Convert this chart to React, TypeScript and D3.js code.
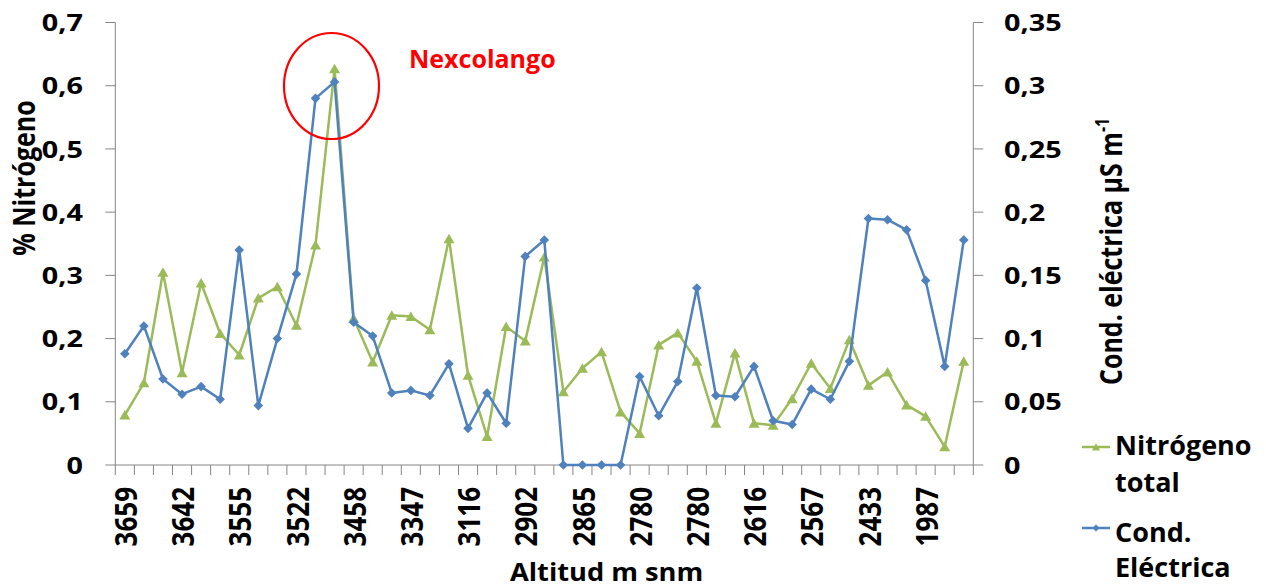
import * as d3 from 'd3'

// altitud labels that Excel actually shows (every 3rd category)
const altitudLabels = ['3659', '3642', '3555', '3522', '3458', '3347', '3116', '2902', '2865', '2780', '2780', '2616', '2567', '2433', '1987']
const labelEvery = 3

// % nitrógeno total (left axis)
const nitrogeno = [
  0.079, 0.13, 0.305, 0.146, 0.288, 0.208, 0.174, 0.264, 0.282, 0.221,
  0.348, 0.627, 0.232, 0.163, 0.237, 0.235, 0.214, 0.358, 0.142, 0.045,
  0.219, 0.196, 0.329, 0.116, 0.153, 0.179, 0.084, 0.05, 0.19, 0.209,
  0.164, 0.066, 0.177, 0.066, 0.063, 0.105, 0.161, 0.121, 0.198, 0.126,
  0.147, 0.095, 0.077, 0.029, 0.164,
]

// conductividad eléctrica µS m-1 (right axis)
const conductividad = [
  0.088, 0.11, 0.068, 0.056, 0.062, 0.052, 0.17, 0.047, 0.1, 0.151,
  0.29, 0.303, 0.113, 0.102, 0.057, 0.059, 0.055, 0.08, 0.029, 0.057,
  0.033, 0.165, 0.178, 0, 0, 0, 0, 0.07, 0.039, 0.066,
  0.14, 0.055, 0.054, 0.078, 0.035, 0.032, 0.06, 0.052, 0.082, 0.195,
  0.194, 0.186, 0.146, 0.078, 0.178,
]

const leftTicks = [0, 0.1, 0.2, 0.3, 0.4, 0.5, 0.6, 0.7]
const rightTicks = [0, 0.05, 0.1, 0.15, 0.2, 0.25, 0.3, 0.35]

const GREEN = '#9BBB59'
const BLUE = '#4F81BD'
const AXIS = '#868686'
const FONT = '"Open Sans", Calibri, sans-serif'

const comma = d3.formatLocale({ decimal: ',', thousands: '.', grouping: [3], currency: ['', ''] }).format('~g')

const W = 1266
const H = 588
const left = 115.3
const right = 973.3
const top = 22.5
const bottom = 465

const triPath = 'M0,-5L5.5,4.5L-5.5,4.5Z'
const diaPath = 'M0,-4.8L4.8,0L0,4.8L-4.8,0Z'

export default function App() {
  const idx = d3.range(nitrogeno.length)
  const x = d3.scaleBand<number>().domain(idx).range([left, right]).padding(0)
  const cx = (i: number) => (x(i) ?? 0) + x.bandwidth() / 2
  const yL = d3.scaleLinear().domain([0, 0.7]).range([bottom, top])
  const yR = d3.scaleLinear().domain([0, 0.35]).range([bottom, top])

  const lineN = d3.line<number>().x((_, i) => cx(i)).y((d) => yL(d))
  const lineC = d3.line<number>().x((_, i) => cx(i)).y((d) => yR(d))

  const boundaries = d3.range(idx.length + 1).map((i) => left + i * x.bandwidth())

  return (
    <svg width={W} height={H} style={{ position: 'absolute', left: 0, top: 0, background: '#fff' }} fontFamily={FONT}>
      {/* axes */}
      <line x1={left} x2={left} y1={top} y2={bottom} stroke={AXIS} />
      <line x1={right} x2={right} y1={top} y2={bottom} stroke={AXIS} />
      <line x1={left} x2={right} y1={bottom} y2={bottom} stroke={AXIS} />
      {leftTicks.map((t) => (
        <g key={'l' + t}>
          <line x1={left - 10} x2={left} y1={yL(t)} y2={yL(t)} stroke={AXIS} />
          <text transform={`translate(83,${yL(t)}) scale(1.2,1)`} textAnchor="end" dy="0.36em" fontSize={24} fontWeight="bold">
            {comma(t)}
          </text>
        </g>
      ))}
      {rightTicks.map((t) => (
        <g key={'r' + t}>
          <line x1={right} x2={right + 10} y1={yR(t)} y2={yR(t)} stroke={AXIS} />
          <text transform={`translate(1004,${yR(t)}) scale(1.2,1)`} textAnchor="start" dy="0.36em" fontSize={24} fontWeight="bold">
            {comma(t)}
          </text>
        </g>
      ))}
      {boundaries.map((b, i) => (
        <line key={'xt' + i} x1={b} x2={b} y1={bottom} y2={bottom + 10} stroke={AXIS} />
      ))}
      {altitudLabels.map((lab, k) => (
        <text
          key={'xl' + k}
          transform={`translate(${cx(k * labelEvery) + 1},487) scale(1.2,1) rotate(-90)`}
          textAnchor="end"
          dy="0.36em"
          fontSize={26}
          fontWeight="bold"
        >
          {lab}
        </text>
      ))}

      {/* axis titles */}
      <text transform="translate(35,178) scale(1.2,1) rotate(-90)" textAnchor="middle" fontSize={25} fontWeight="bold">
        % Nitrógeno
      </text>
      <text transform="translate(1122,385) scale(1.2,1) rotate(-90)" textAnchor="start" fontSize={25} fontWeight="bold">
        Cond. eléctrica µS m<tspan fontSize={16} dy={-11}>-1</tspan>
      </text>
      <text transform="translate(510,581) scale(1.09,1)" fontSize={25} fontWeight="bold">
        Altitud m snm
      </text>

      {/* series */}
      <path d={lineN(nitrogeno) ?? ''} fill="none" stroke={GREEN} strokeWidth={2.5} strokeLinejoin="round" />
      {nitrogeno.map((v, i) => (
        <path key={'n' + i} d={triPath} transform={`translate(${cx(i)},${yL(v)})`} fill={GREEN} />
      ))}
      <path d={lineC(conductividad) ?? ''} fill="none" stroke={BLUE} strokeWidth={2.5} strokeLinejoin="round" />
      {conductividad.map((v, i) => (
        <path key={'c' + i} d={diaPath} transform={`translate(${cx(i)},${yR(v)})`} fill={BLUE} />
      ))}

      {/* annotation */}
      <ellipse cx={331.5} cy={86} rx={47.5} ry={53} fill="none" stroke="#FF0000" strokeWidth={2.2} />
      <text x={409} y={68} fill="#FF0000" fontSize={25} fontWeight="bold">
        Nexcolango
      </text>

      {/* legend */}
      <g>
        <line x1={1082} x2={1110} y1={447} y2={447} stroke={GREEN} strokeWidth={2.5} />
        <path d={triPath} transform="translate(1096,447) scale(0.75)" fill={GREEN} />
        <text x={1115} y={455} fontSize={27} fontWeight="bold">Nitrógeno</text>
        <text x={1115} y={492} fontSize={27} fontWeight="bold">total</text>
        <line x1={1082} x2={1110} y1={528} y2={528} stroke={BLUE} strokeWidth={2.5} />
        <path d={diaPath} transform="translate(1096,528) scale(0.75)" fill={BLUE} />
        <text x={1115} y={542} fontSize={27} fontWeight="bold">Cond.</text>
        <text x={1115} y={577} fontSize={27} fontWeight="bold">Eléctrica</text>
      </g>
    </svg>
  )
}
